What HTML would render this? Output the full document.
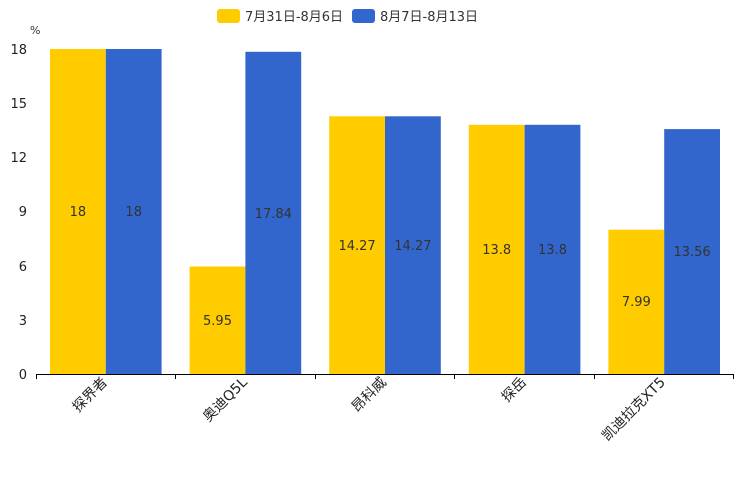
<!DOCTYPE html>
<html><head><meta charset="utf-8"><style>
html,body{margin:0;padding:0;background:#fff;}
svg{display:block;font-family:"DejaVu Sans","Noto Sans CJK SC",sans-serif;}
</style></head><body>
<svg width="744" height="496" viewBox="0 0 744 496" xmlns="http://www.w3.org/2000/svg">
<rect x="217" y="9" width="23" height="14" rx="3" fill="#ffcc00"/>
<text x="245" y="21" font-size="13" fill="#333">7月31日-8月6日</text>
<rect x="352" y="9" width="23" height="14" rx="3" fill="#3366cc"/>
<text x="380" y="21" font-size="13" fill="#333">8月7日-8月13日</text>
<text x="30" y="34" font-size="11" fill="#333">%</text>
<g font-size="13" fill="#222" text-anchor="end">
<text x="27" y="379">0</text><text x="27" y="325">3</text><text x="27" y="271">6</text>
<text x="27" y="216">9</text><text x="27" y="162">12</text><text x="27" y="108">15</text><text x="27" y="54">18</text>
</g>
<g>
<rect x="50" y="49" width="55.8" height="325" fill="#ffcc00"/><rect x="105.8" y="49" width="55.8" height="325" fill="#3366cc"/>
<rect x="189.6" y="266.5" width="55.8" height="107.5" fill="#ffcc00"/><rect x="245.4" y="51.8" width="55.8" height="322.2" fill="#3366cc"/>
<rect x="329.2" y="116.3" width="55.8" height="257.7" fill="#ffcc00"/><rect x="385" y="116.3" width="55.8" height="257.7" fill="#3366cc"/>
<rect x="468.8" y="124.8" width="55.8" height="249.2" fill="#ffcc00"/><rect x="524.6" y="124.8" width="55.8" height="249.2" fill="#3366cc"/>
<rect x="608.4" y="229.7" width="55.8" height="144.3" fill="#ffcc00"/><rect x="664.2" y="129.1" width="55.8" height="244.9" fill="#3366cc"/>
</g>
<g font-size="13" fill="#333" text-anchor="middle">
<text x="77.9" y="216">18</text><text x="133.7" y="216">18</text>
<text x="217.5" y="325">5.95</text><text x="273.3" y="218">17.84</text>
<text x="357.1" y="250">14.27</text><text x="412.9" y="250">14.27</text>
<text x="496.7" y="254">13.8</text><text x="552.5" y="254">13.8</text>
<text x="636.3" y="306">7.99</text><text x="692.1" y="256">13.56</text>
</g>
<line x1="36" y1="374.5" x2="734" y2="374.5" stroke="#000" stroke-width="1"/>
<g stroke="#000" stroke-width="1">
<line x1="36.5" y1="374" x2="36.5" y2="379"/><line x1="175.5" y1="374" x2="175.5" y2="379"/>
<line x1="315.5" y1="374" x2="315.5" y2="379"/><line x1="454.5" y1="374" x2="454.5" y2="379"/>
<line x1="594.5" y1="374" x2="594.5" y2="379"/><line x1="733.5" y1="374" x2="733.5" y2="379"/>
</g>
<g font-size="14" fill="#222" text-anchor="end">
<text transform="translate(108,383) rotate(-45)">探界者</text>
<text transform="translate(248,383) rotate(-45)">奥迪Q5L</text>
<text transform="translate(387,383) rotate(-45)">昂科威</text>
<text transform="translate(527,383) rotate(-45)">探岳</text>
<text transform="translate(666,383) rotate(-45)">凯迪拉克XT5</text>
</g>
</svg>
</body></html>
